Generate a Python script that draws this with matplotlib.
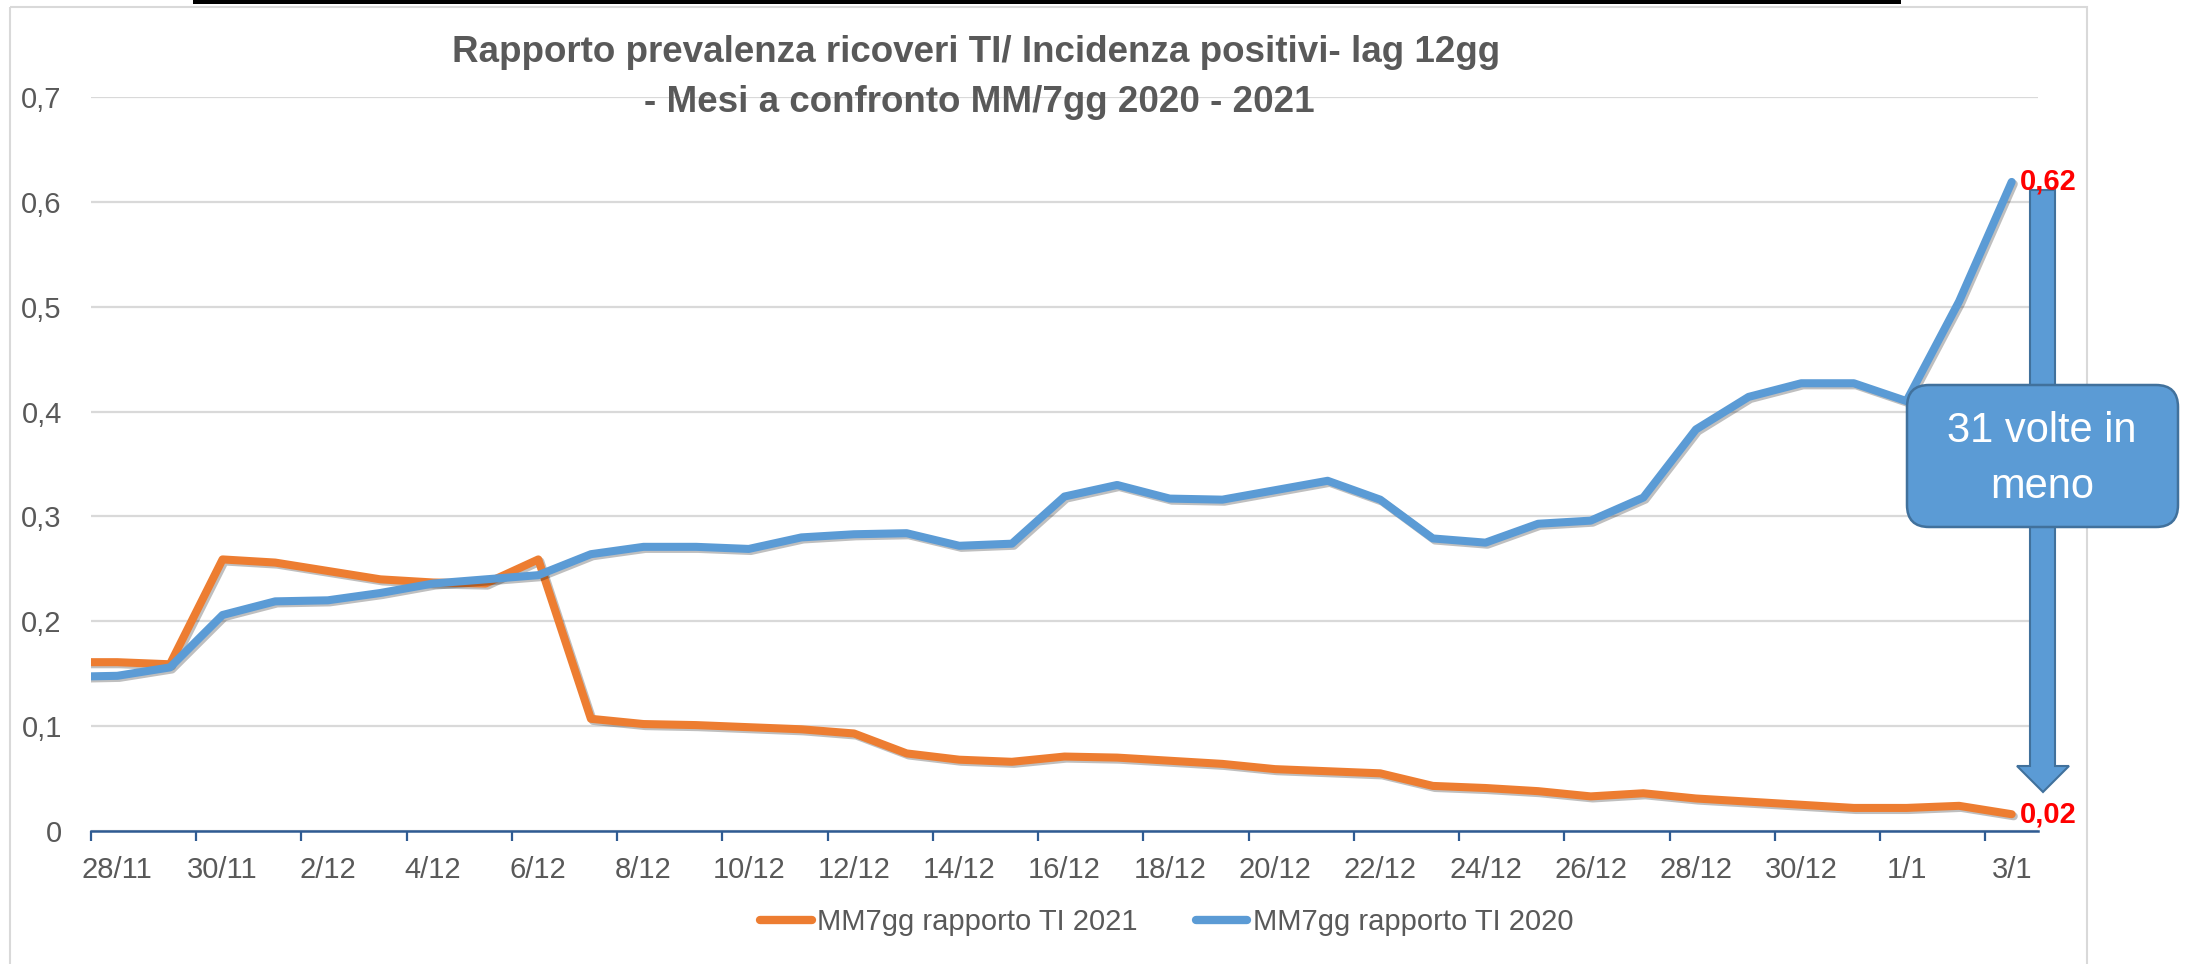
import matplotlib
matplotlib.use("Agg")
import matplotlib.pyplot as plt
import matplotlib.patheffects as pe
from matplotlib.transforms import Affine2D
from matplotlib.patches import FancyBboxPatch, Polygon, Rectangle
from matplotlib.lines import Line2D
import numpy as np

plt.rcParams['font.family'] = ['Liberation Sans', 'DejaVu Sans']

# ---------------- data ----------------
# one day before the first label (27/11) is partly visible at the left edge
days = ["27/11", "28/11", "29/11", "30/11", "1/12", "2/12", "3/12", "4/12", "5/12", "6/12",
        "7/12", "8/12", "9/12", "10/12", "11/12", "12/12", "13/12", "14/12", "15/12",
        "16/12", "17/12", "18/12", "19/12", "20/12", "21/12", "22/12", "23/12", "24/12",
        "25/12", "26/12", "27/12", "28/12", "29/12", "30/12", "31/12", "1/1", "2/1", "3/1"]

tick_labels = ["28/11", "30/11", "2/12", "4/12", "6/12", "8/12", "10/12", "12/12", "14/12",
               "16/12", "18/12", "20/12", "22/12", "24/12", "26/12", "28/12", "30/12", "1/1", "3/1"]

mm7_2021 = [0.161, 0.161, 0.159, 0.259, 0.256, 0.248, 0.240, 0.237, 0.236, 0.259,
            0.107, 0.102, 0.101, 0.099, 0.097, 0.093, 0.074, 0.068, 0.066, 0.071,
            0.070, 0.067, 0.064, 0.059, 0.057, 0.055, 0.043, 0.041, 0.038, 0.033,
            0.036, 0.031, 0.028, 0.025, 0.022, 0.022, 0.024, 0.016]

mm7_2020 = [0.147, 0.148, 0.156, 0.206, 0.219, 0.220, 0.227, 0.236, 0.240, 0.244,
            0.264, 0.271, 0.271, 0.269, 0.280, 0.283, 0.284, 0.272, 0.274, 0.319,
            0.330, 0.317, 0.316, 0.325, 0.334, 0.316, 0.279, 0.275, 0.293, 0.296,
            0.318, 0.383, 0.414, 0.427, 0.427, 0.410, 0.505, 0.619]

yticks = [0, 0.1, 0.2, 0.3, 0.4, 0.5, 0.6, 0.7]
ytick_labels = ["0", "0,1", "0,2", "0,3", "0,4", "0,5", "0,6", "0,7"]

title1 = "Rapporto prevalenza ricoveri TI/ Incidenza positivi- lag 12gg"
title2 = "- Mesi a confronto MM/7gg 2020 - 2021"
label_2021 = "MM7gg rapporto TI 2021"
label_2020 = "MM7gg rapporto TI 2020"
callout = ["31 volte in", "meno"]

ORANGE = "#ED7D31"
BLUE = "#5B9BD5"
BLUE_EDGE = "#41719C"
GRAY = "#595959"

# ---------------- figure ----------------
W, H = 2188, 964
fig = plt.figure(figsize=(W / 100, H / 100), dpi=100)
px = Affine2D().scale(1 / W, -1 / H).translate(0, 1) + fig.transFigure

ax = fig.add_axes([91 / W, 1 - 831 / H, (2038 - 91) / W, (831 - 97) / H])
x = np.arange(len(days)) - 1  # index 0 = 28/11

shadow = [pe.SimpleLineShadow(offset=(1.5, -1.5), shadow_color="black", alpha=0.25),
          pe.Normal()]
ax.plot(x, mm7_2021, color=ORANGE, lw=5.8, solid_joinstyle="round",
        solid_capstyle="round", path_effects=shadow, zorder=3, label=label_2021)
ax.plot(x, mm7_2020, color=BLUE, lw=5.8, solid_joinstyle="round",
        solid_capstyle="round", path_effects=shadow, zorder=4, label=label_2020)

n = len(days) - 1
ax.set_xlim(-0.5, n - 0.5)
ax.set_ylim(0, 0.7)

ax.set_yticks(yticks)
ax.set_yticklabels(ytick_labels)
ax.tick_params(axis="y", length=0, pad=21, labelsize=21, labelcolor=GRAY)
ax.yaxis.grid(True, color="#D9D9D9", lw=1.6, zorder=0)
ax.set_axisbelow(True)

ax.set_xticks(np.arange(-0.5, n - 0.5, 2))
ax.set_xticklabels([])
ax.set_xticks(np.arange(0, n, 2), minor=True)
ax.set_xticklabels(tick_labels, minor=True)
ax.tick_params(axis="x", which="major", length=7.5, width=1.6, color="#2F5B92", direction="out")
ax.tick_params(axis="x", which="minor", length=0, pad=18, labelsize=21, labelcolor=GRAY)

for s in ["top", "right", "left"]:
    ax.spines[s].set_visible(False)
ax.spines["bottom"].set_color("#2F5B92")
ax.spines["bottom"].set_linewidth(1.8)
ax.spines["bottom"].set_zorder(5)

# ---------------- decorations ----------------
# chart border and the black bar at the top of the screenshot
fig.add_artist(Rectangle((10, 7), 2077, 1000, transform=px, fill=False,
                         edgecolor="#D9D9D9", lw=1.5, zorder=-1))
fig.add_artist(Rectangle((193, 0), 1708, 4, transform=px, facecolor="black",
                         edgecolor="none", zorder=-1))

fig.text(976 / W, 1 - 53 / H, title1, ha="center", va="center", fontsize=26.5,
         fontweight="bold", color=GRAY)
fig.text(979 / W, 1 - 103 / H, title2, ha="center", va="center", fontsize=26.5,
         fontweight="bold", color=GRAY)

# arrow
arrow = Polygon([(2030, 190), (2055, 190), (2055, 766), (2069, 766), (2043, 792),
                 (2017, 766), (2030, 766)], closed=True, transform=px,
                facecolor=BLUE, edgecolor=BLUE_EDGE, lw=1.5, clip_on=False, zorder=6)
ax.add_artist(arrow)

# callout box
box = FancyBboxPatch((1907, 385), 271, 142, boxstyle="round,pad=0,rounding_size=22",
                     transform=px, facecolor=BLUE, edgecolor=BLUE_EDGE, lw=1.8,
                     clip_on=False, zorder=7)
ax.add_artist(box)
ax.text(2042, 431, callout[0], transform=px, ha="center", va="center", fontsize=30,
        color="white", zorder=8, clip_on=False)
ax.text(2042, 487, callout[1], transform=px, ha="center", va="center", fontsize=30,
        color="white", zorder=8, clip_on=False)

# data labels of the last points
def fmt(v):
    return f"{v:.2f}".replace(".", ",")

for series in (mm7_2020, mm7_2021):
    ax.annotate(fmt(series[-1]), xy=(x[-1], series[-1]), xytext=(6, 0),
                textcoords="offset points", ha="left", va="center", fontsize=21,
                fontweight="bold", color="red", zorder=9, annotation_clip=False)

# legend
handles = [Line2D([], [], color=ORANGE, lw=6, solid_capstyle="round"),
           Line2D([], [], color=BLUE, lw=6, solid_capstyle="round")]
leg = fig.legend(handles, [label_2021, label_2020], loc="center",
                 bbox_to_anchor=(1167 / W, 1 - 922 / H), ncol=2, frameon=False,
                 fontsize=21, handlelength=1.75, handletextpad=0.2, columnspacing=2.0,
                 labelcolor=GRAY)

fig.savefig("out.png", dpi=100)
